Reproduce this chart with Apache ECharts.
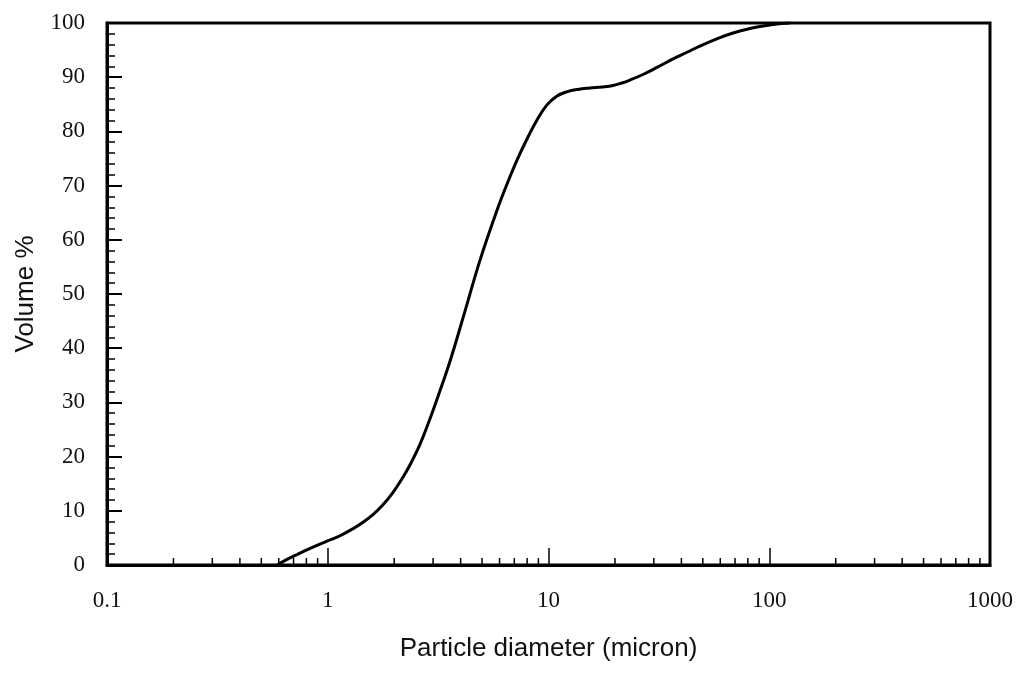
<!DOCTYPE html>
<html>
<head>
<meta charset="utf-8">
<script src="https://cdn.jsdelivr.net/npm/echarts@6/dist/echarts.min.js"></script>
<style>
  html, body { margin: 0; padding: 0; background: #ffffff; }
  #chart { width: 1020px; height: 692px; }
</style>
</head>
<body>
<div id="chart"></div>
<script>
// Cumulative particle size distribution: volume % finer than a given diameter (micron)
const diameter = [0.589, 0.674, 0.748, 0.857, 0.992, 1.137, 1.301, 1.445, 1.603, 1.779,
                  1.976, 2.17, 2.36, 2.62, 2.90, 3.22, 3.58, 4.10, 4.90, 5.85,
                  6.49, 7.20, 7.99, 8.87, 9.84, 10.9, 12.1, 13.6, 15.4, 17.5,
                  19.6, 21.5, 23.4, 26.8, 31.0, 36.3, 42.4, 48.5, 59.8, 68.6,
                  79.3, 90.8, 106, 124];
const volume   = [0, 1.3, 2.2, 3.3, 4.4, 5.4, 6.7, 7.9, 9.3, 11.1,
                  13.4, 15.9, 18.5, 22.3, 26.9, 32.1, 37.6, 45.6, 56.3, 65.5,
                  70.3, 74.7, 78.6, 82.1, 84.9, 86.5, 87.3, 87.75, 88.0, 88.2,
                  88.47, 88.93, 89.48, 90.5, 91.8, 93.3, 94.6, 95.75, 97.3, 98.15,
                  98.85, 99.34, 99.76, 100];

// Decade labels of the logarithmic diameter axis
const xTickLabels = ['0.1', '1', '10', '100', '1000'];
// Intermediate (2..9) tick positions within each decade
const xMinorTicks = [0.2, 0.3, 0.4, 0.5, 0.6, 0.7, 0.8, 0.9,
                     2, 3, 4, 5, 6, 7, 8, 9,
                     20, 30, 40, 50, 60, 70, 80, 90,
                     200, 300, 400, 500, 600, 700, 800, 900];

const curve = diameter.map((d, i) => [d, volume[i]]);

const chart = echarts.init(document.getElementById('chart'), null, { renderer: 'canvas' });

chart.setOption({
  backgroundColor: '#ffffff',
  animation: false,
  grid: {
    left: 107, right: 30, top: 23, bottom: 127,
    show: true, borderColor: '#000000', borderWidth: 3, backgroundColor: 'transparent'
  },
  xAxis: {
    type: 'log',
    logBase: 10,
    min: 0.1,
    max: 1000,
    name: 'Particle diameter (micron)',
    nameLocation: 'middle',
    nameGap: 71,
    nameTextStyle: { fontFamily: 'Liberation Sans', fontSize: 26, color: '#111' },
    axisLine: { lineStyle: { color: '#000', width: 3 } },
    axisTick: { inside: true, length: 17, lineStyle: { color: '#000', width: 1.5 } },
    axisLabel: {
      margin: 24,
      fontFamily: 'Liberation Serif',
      fontSize: 23,
      color: '#111',
      formatter: v => xTickLabels[Math.round(Math.log10(v)) + 1]
    },
    splitLine: { show: false }
  },
  yAxis: {
    type: 'value',
    min: 0,
    max: 100,
    interval: 10,
    name: 'Volume %',
    nameLocation: 'middle',
    nameGap: 68,
    nameRotate: 90,
    nameTextStyle: { fontFamily: 'Liberation Sans', fontSize: 26, color: '#111' },
    axisLine: { lineStyle: { color: '#000', width: 3 } },
    axisTick: { inside: true, length: 15, lineStyle: { color: '#000', width: 2 } },
    minorTick: { show: true, splitNumber: 5, length: 8, lineStyle: { color: '#000', width: 1.5 } },
    axisLabel: { margin: 22, fontFamily: 'Liberation Serif', fontSize: 23, color: '#111' },
    splitLine: { show: false },
    minorSplitLine: { show: false }
  },
  series: [
    {
      // short inward ticks for 2..9 within each decade
      type: 'custom',
      silent: true,
      clip: false,
      z: 1,
      data: xMinorTicks.map(v => [v, 0]),
      renderItem(params, api) {
        const p = api.coord([api.value(0), 0]);
        return {
          type: 'line',
          shape: { x1: p[0], y1: p[1], x2: p[0], y2: p[1] - 7 },
          style: { stroke: '#000', lineWidth: 1.5 }
        };
      }
    },
    {
      type: 'line',
      data: curve,
      smooth: 0.4,
      showSymbol: false,
      clip: true,
      z: 3,
      lineStyle: { color: '#000', width: 3 }
    }
  ]
});
</script>
</body>
</html>
